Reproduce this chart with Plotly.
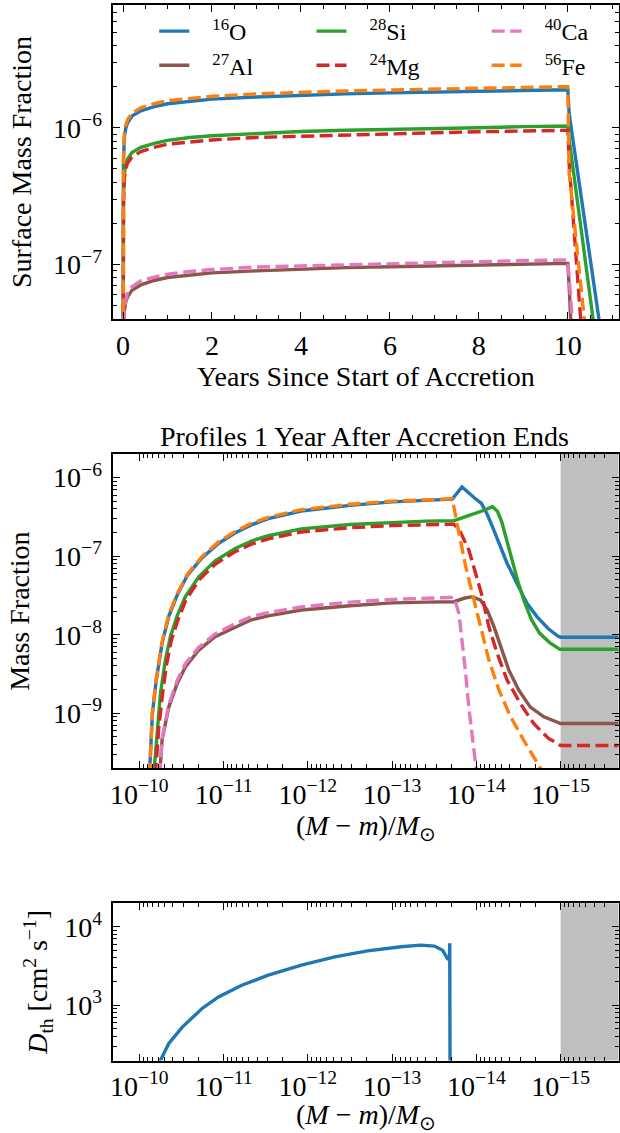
import plotly.graph_objects as go

# ---------------- Panel 1: surface mass fractions vs time ----------------
years = [0.0, 0.01, 0.03, 0.06, 0.1, 0.2, 0.4, 0.7, 1.0, 1.5, 2.0, 3.0, 4.0, 5.0,
         6.0, 7.0, 8.0, 9.0, 10.0, 10.03, 11.0]
surf_O = [2e-9, 5.7e-7, 8.55e-7, 9.9e-7, 1.08e-6, 1.22e-6, 1.33e-6, 1.43e-6, 1.50e-6, 1.57e-6,
          1.62e-6, 1.68e-6, 1.73e-6, 1.77e-6, 1.80e-6, 1.82e-6, 1.85e-6, 1.88e-6, 1.90e-6, 1.27e-6, 8.5e-9]
surf_Al = [1e-10, 3.1e-8, 4.6e-8, 5.3e-8, 5.8e-8, 6.5e-8, 7.1e-8, 7.65e-8, 8.05e-8, 8.4e-8,
           8.7e-8, 9.0e-8, 9.3e-8, 9.5e-8, 9.65e-8, 9.8e-8, 9.95e-8, 1.01e-7, 1.02e-7, 7.0e-8, 1e-14]
surf_Si = [1e-9, 3.1e-7, 4.6e-7, 5.4e-7, 5.9e-7, 6.6e-7, 7.2e-7, 7.7e-7, 8.1e-7, 8.5e-7,
           8.75e-7, 9.1e-7, 9.4e-7, 9.6e-7, 9.7e-7, 9.9e-7, 1.0e-6, 1.02e-6, 1.03e-6, 8.3e-7, 3.5e-9]
surf_Mg = [1e-9, 2.9e-7, 4.3e-7, 5.0e-7, 5.5e-7, 6.1e-7, 6.7e-7, 7.2e-7, 7.6e-7, 7.9e-7,
           8.15e-7, 8.5e-7, 8.7e-7, 8.9e-7, 9.1e-7, 9.2e-7, 9.35e-7, 9.5e-7, 9.6e-7, 5.5e-7, 3e-11]
surf_Ca = [1e-10, 3.2e-8, 4.9e-8, 5.6e-8, 6.2e-8, 6.9e-8, 7.6e-8, 8.1e-8, 8.5e-8, 8.9e-8,
           9.2e-8, 9.6e-8, 9.8e-8, 1.0e-7, 1.02e-7, 1.04e-7, 1.05e-7, 1.07e-7, 1.08e-7, 8.0e-8, 5e-12]
surf_Fe = [2e-9, 6.0e-7, 9.0e-7, 1.04e-6, 1.14e-6, 1.28e-6, 1.40e-6, 1.50e-6, 1.58e-6, 1.65e-6,
           1.70e-6, 1.77e-6, 1.82e-6, 1.86e-6, 1.89e-6, 1.92e-6, 1.95e-6, 1.98e-6, 2.0e-6, 4.7e-7, 4.2e-10]

# ---------------- Panel 2: profiles 1 yr after accretion ends ----------------
dm_O = [7.59e-11, 7.0e-11, 6.31e-11, 5.37e-11, 4.47e-11, 3.55e-11, 2.69e-11, 1.82e-11, 1.15e-11,
        7.24e-12, 4.68e-12, 2.95e-12, 1.20e-12, 3.16e-13, 1.0e-13, 3.98e-14, 1.93e-14,
        1.48e-14, 1.26e-14, 1.05e-14, 8.71e-15, 7.41e-15, 6.31e-15, 5.25e-15, 4.32e-15,
        3.31e-15, 2.51e-15, 1.91e-15, 1.41e-15, 1.07e-15, 1.0e-15, 1.58e-16]
X_O = [1.6e-10, 1.0e-9, 2.6e-9, 7.8e-9, 1.72e-8, 3.2e-8, 5.7e-8, 9.4e-8, 1.45e-7,
       1.98e-7, 2.5e-7, 3.0e-7, 3.75e-7, 4.42e-7, 4.90e-7, 5.13e-7, 5.31e-7,
       7.59e-7, 6.46e-7, 5.50e-7, 4.68e-7, 3.39e-7, 2.24e-7, 1.38e-7, 8.13e-8,
       4.52e-8, 2.51e-8, 1.70e-8, 1.20e-8, 9.55e-9, 9.3e-9, 9.3e-9]

dm_Al = [5.75e-11, 5.37e-11, 4.47e-11, 3.55e-11, 2.84e-11, 1.97e-11, 1.26e-11, 7.29e-12, 4.68e-12,
         2.95e-12, 1.19e-12, 3.16e-13, 1.0e-13, 3.98e-14, 1.84e-14, 1.40e-14, 1.12e-14, 8.91e-15,
         7.41e-15, 6.17e-15, 5.13e-15, 4.12e-15, 3.16e-15, 2.29e-15, 1.58e-15, 1.03e-15, 1.0e-15, 1.58e-16]
X_Al = [1.6e-10, 4.57e-10, 1.20e-9, 2.40e-9, 3.89e-9, 6.38e-9, 9.44e-9, 1.26e-8, 1.55e-8,
        1.74e-8, 2.06e-8, 2.34e-8, 2.54e-8, 2.60e-8, 2.63e-8, 2.91e-8, 3.05e-8, 2.75e-8,
        2.04e-8, 1.26e-8, 7.08e-9, 3.55e-9, 2.0e-9, 1.20e-9, 9.02e-10, 7.59e-10, 7.41e-10, 7.41e-10]

dm_Si = [6.76e-11, 6.12e-11, 5.62e-11, 4.90e-11, 4.27e-11, 3.55e-11, 2.84e-11, 1.97e-11, 1.26e-11,
         7.29e-12, 4.68e-12, 2.95e-12, 1.20e-12, 3.16e-13, 1.0e-13, 3.98e-14, 1.91e-14, 1.76e-14,
         1.29e-14, 9.77e-15, 7.76e-15, 6.46e-15, 5.62e-15, 5.01e-15, 4.37e-15, 3.72e-15, 3.16e-15,
         2.69e-15, 2.24e-15, 1.78e-15, 1.35e-15, 1.02e-15, 1.58e-16]
X_Si = [1.6e-10, 6.76e-10, 1.78e-9, 4.79e-9, 9.5e-9, 1.75e-8, 3.05e-8, 5.45e-8, 8.7e-8,
        1.25e-7, 1.56e-7, 1.82e-7, 2.22e-7, 2.53e-7, 2.69e-7, 2.79e-7, 2.82e-7, 2.88e-7,
        3.24e-7, 3.55e-7, 3.89e-7, 4.27e-7, 3.72e-7, 2.75e-7, 1.58e-7, 8.32e-8, 4.47e-8,
        2.63e-8, 1.58e-8, 1.05e-8, 7.94e-9, 6.52e-9, 6.52e-9]

dm_Mg = [6.46e-11, 5.89e-11, 5.37e-11, 4.79e-11, 4.17e-11, 3.47e-11, 2.82e-11, 1.97e-11, 1.26e-11,
         7.29e-12, 4.68e-12, 2.95e-12, 1.20e-12, 3.16e-13, 1.0e-13, 3.98e-14, 1.84e-14, 1.55e-14,
         1.23e-14, 1.02e-14, 8.51e-15, 7.11e-15, 5.66e-15, 4.32e-15, 3.02e-15, 2.09e-15, 1.39e-15,
         1.06e-15, 1.0e-15, 1.58e-16]
X_Mg = [1.6e-10, 6.31e-10, 1.58e-9, 3.98e-9, 8.5e-9, 1.56e-8, 2.72e-8, 4.95e-8, 7.9e-8,
        1.14e-7, 1.42e-7, 1.66e-7, 2.03e-7, 2.30e-7, 2.45e-7, 2.51e-7, 2.55e-7, 2.04e-7,
        1.20e-7, 6.03e-8, 3.05e-8, 1.26e-8, 5.79e-9, 2.65e-9, 1.34e-9, 7.41e-10, 4.79e-10,
        4.07e-10, 3.89e-10, 3.89e-10]

dm_Ca = [5.75e-11, 5.37e-11, 4.47e-11, 3.55e-11, 2.84e-11, 1.97e-11, 1.26e-11, 7.29e-12, 4.68e-12,
         2.95e-12, 1.19e-12, 3.16e-13, 1.0e-13, 3.98e-14, 1.84e-14, 1.61e-14, 1.48e-14, 1.34e-14,
         1.23e-14, 1.12e-14, 1.02e-14, 9.33e-15]
X_Ca = [1.6e-10, 4.79e-10, 1.29e-9, 2.63e-9, 4.27e-9, 6.92e-9, 1.02e-8, 1.38e-8, 1.70e-8,
        1.91e-8, 2.26e-8, 2.60e-8, 2.82e-8, 2.92e-8, 2.99e-8, 1.86e-8, 8.51e-9, 3.24e-9,
        1.20e-9, 4.57e-10, 2.19e-10, 1.0e-10]

dm_Fe = [7.59e-11, 7.0e-11, 6.31e-11, 5.37e-11, 4.47e-11, 3.55e-11, 2.69e-11, 1.82e-11, 1.15e-11,
         7.24e-12, 4.68e-12, 2.95e-12, 1.20e-12, 3.16e-13, 1.0e-13, 3.98e-14, 1.93e-14,
         1.61e-14, 1.34e-14, 1.12e-14, 8.91e-15, 7.11e-15, 5.42e-15, 3.94e-15, 2.75e-15, 1.82e-15, 1.26e-15]
X_Fe = [1.6e-10, 1.0e-9, 2.7e-9, 8.1e-9, 1.8e-8, 3.35e-8, 5.9e-8, 9.8e-8, 1.52e-7,
        2.07e-7, 2.62e-7, 3.12e-7, 3.9e-7, 4.57e-7, 5.01e-7, 5.19e-7, 5.37e-7,
        1.96e-7, 7.41e-8, 3.39e-8, 1.26e-8, 4.79e-9, 2.0e-9, 9.12e-10, 4.57e-10, 2.14e-10, 1.12e-10]

# ---------------- Panel 3: thermohaline diffusion coefficient ----------------
dm_D = [5.89e-11, 4.47e-11, 3.09e-11, 1.80e-11, 1.15e-11, 6.08e-12, 2.95e-12, 1.19e-12, 4.81e-13,
        1.95e-13, 7.85e-14, 4.57e-14, 3.16e-14, 2.51e-14, 2.21e-14, 2.09e-14, 2.07e-14, 2.04e-14]
D_th = [178, 324, 525, 908, 1276, 1799, 2415, 3236, 4140, 4932, 5559, 5834, 5675, 5012, 3945,
        3802, 6166, 10]

PAD = "\u00a0\u00a0\u00a0"
labels = [PAD + "<sup>16</sup>O", PAD + "<sup>27</sup>Al", PAD + "<sup>28</sup>Si",
          PAD + "<sup>24</sup>Mg", PAD + "<sup>40</sup>Ca", PAD + "<sup>56</sup>Fe"]
surf_series = [surf_O, surf_Al, surf_Si, surf_Mg, surf_Ca, surf_Fe]
prof_x = [dm_O, dm_Al, dm_Si, dm_Mg, dm_Ca, dm_Fe]
prof_y = [X_O, X_Al, X_Si, X_Mg, X_Ca, X_Fe]

colors = ["#1f77b4", "#8c564b", "#2ca02c", "#d62728", "#e377c2", "#ff7f0e"]
dashes = ["solid", "solid", "solid", "13px,5.5px", "13px,5.5px", "13px,5.5px"]
legends = ["legend", "legend", "legend2", "legend2", "legend3", "legend3"]
LW = 3.4

FONT = "Liberation Serif"
FS = 28

fig = go.Figure()
for i in range(6):
    fig.add_trace(go.Scatter(x=years, y=surf_series[i], mode="lines", name=labels[i],
                             line=dict(color=colors[i], width=LW, dash=dashes[i]),
                             xaxis="x", yaxis="y", legend=legends[i], showlegend=True))
for i in range(6):
    fig.add_trace(go.Scatter(x=prof_x[i], y=prof_y[i], mode="lines", name=labels[i],
                             line=dict(color=colors[i], width=LW, dash=dashes[i]),
                             xaxis="x2", yaxis="y2", showlegend=False))
fig.add_trace(go.Scatter(x=dm_D, y=D_th, mode="lines", name="D_th",
                         line=dict(color="#1f77b4", width=LW), xaxis="x3", yaxis="y3",
                         showlegend=False))

H = 1133.0
W = 620.0
xdom = [111 / W, 618.5 / W]
def ydom(top, bot):
    return [1 - bot / H, 1 - top / H]

def minor_log(lo, hi):
    return [m * 10.0 ** e for e in range(lo, hi) for m in range(2, 10)]

common = dict(showline=True, linecolor="black", linewidth=1.8, mirror="allticks",
              ticks="inside", ticklen=7, tickwidth=1.2, tickcolor="black",
              showgrid=False, zeroline=False,
              tickfont=dict(family=FONT, size=FS, color="black"))
minor_style = dict(ticks="inside", ticklen=4, tickwidth=1.0, tickcolor="black", showgrid=False)

dec = lambda e: "10<sup>\u2212%d</sup>" % e

mass_ticks = [1e-10, 1e-11, 1e-12, 1e-13, 1e-14, 1e-15]
mass_text = [dec(10), dec(11), dec(12), dec(13), dec(14), dec(15)]
mass_title = "(<i>M</i> \u2212 <i>m</i>)/<i>M</i><sub>\u2299</sub>"
tfont = dict(family=FONT, size=FS, color="black")

legend_common = dict(xanchor="left", yanchor="top", bgcolor="rgba(0,0,0,0)",
                     font=dict(family=FONT, size=24, color="black"))

fig.update_layout(
    width=620, height=1133,
    margin=dict(l=0, r=0, t=0, b=0),
    paper_bgcolor="white", plot_bgcolor="white",
    font=dict(family=FONT, size=FS, color="black"),
    title=dict(text="Profiles 1 Year After Accretion Ends", x=364.5 / W, xanchor="center",
               y=1 - 436 / H, yanchor="middle", font=tfont),
    xaxis=dict(domain=xdom, anchor="y", range=[-0.215, 11.14],
               tickvals=[0, 2, 4, 6, 8, 10],
               minor=dict(dtick=0.5, **minor_style),
               title=dict(text="Years Since Start of Accretion", standoff=3, font=tfont),
               **common),
    yaxis=dict(domain=ydom(4.7, 319.3), anchor="x", type="log", range=[-7.40, -5.10],
               tickvals=[1e-7, 1e-6], ticktext=[dec(7), dec(6)], ticklabelstandoff=4,
               minor=dict(tickvals=minor_log(-8, -5), **minor_style),
               title=dict(text="Surface Mass Fraction", standoff=13, font=tfont),
               **common),
    xaxis2=dict(domain=xdom, anchor="y2", type="log", range=[-9.693, -15.687],
                tickvals=mass_ticks, ticktext=mass_text,
                minor=dict(tickvals=minor_log(-17, -9), **minor_style),
                title=dict(text=mass_title, standoff=6, font=tfont),
                **common),
    yaxis2=dict(domain=ydom(454, 768.3), anchor="x2", type="log", range=[-9.70, -5.70],
                tickvals=[1e-9, 1e-8, 1e-7, 1e-6], ticktext=[dec(9), dec(8), dec(7), dec(6)],
                ticklabelstandoff=4,
                minor=dict(tickvals=minor_log(-10, -5), **minor_style),
                title=dict(text="Mass Fraction", standoff=15, font=tfont),
                **common),
    xaxis3=dict(domain=xdom, anchor="y3", type="log", range=[-9.693, -15.687],
                tickvals=mass_ticks, ticktext=mass_text,
                minor=dict(tickvals=minor_log(-17, -9), **minor_style),
                **common),
    yaxis3=dict(domain=ydom(903.3, 1060.5), anchor="x3", type="log", range=[2.294, 4.30],
                tickvals=[1e3, 1e4], ticktext=["10<sup>3</sup>", "10<sup>4</sup>"],
                ticklabelstandoff=4,
                minor=dict(tickvals=minor_log(2, 5), **minor_style),
                title=dict(text="<i>D</i><sub>th</sub> [cm<sup>2</sup> s<sup>\u22121</sup>]",
                           standoff=8, font=tfont),
                **common),
    annotations=[
        dict(text=mass_title, xref="paper", yref="paper", x=364.5 / W, y=1 - 1116 / H,
             xanchor="center", yanchor="middle", showarrow=False, font=tfont),
    ],
    legend=dict(x=152 / W, y=1 - 9 / H, **legend_common),
    legend2=dict(x=310 / W, y=1 - 9 / H, **legend_common),
    legend3=dict(x=486 / W, y=1 - 9 / H, **legend_common),
    shapes=[
        dict(type="rect", xref="x2", yref="y2 domain", x0=1e-15, x1=1e-17, y0=0, y1=1,
             fillcolor="#bfbfbf", line=dict(width=0), layer="below"),
        dict(type="rect", xref="x3", yref="y3 domain", x0=1e-15, x1=1e-17, y0=0, y1=1,
             fillcolor="#bfbfbf", line=dict(width=0), layer="below"),
    ],
)

fig.write_html("out.html")
